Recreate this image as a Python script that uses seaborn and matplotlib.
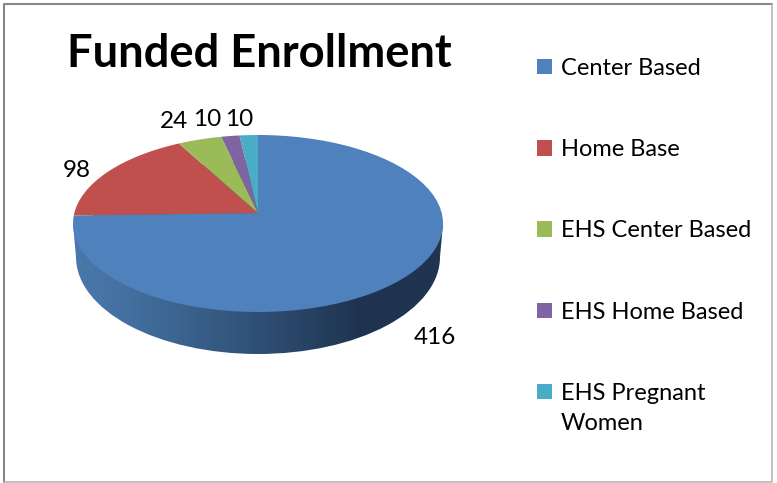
import numpy as np
import seaborn as sns
import matplotlib
matplotlib.use('Agg')
import matplotlib.pyplot as plt
import matplotlib.patches as mpatches
import matplotlib.transforms as mtransforms
from matplotlib.colors import LinearSegmentedColormap
from matplotlib.lines import Line2D

categories = ['Center Based', 'Home Base', 'EHS Center Based', 'EHS Home Based', 'EHS Pregnant\nWomen']
values = [416, 98, 24, 10, 10]
colors = ['#4F81BD', '#C0504D', '#9BBB59', '#8064A2', '#4BACC6']
label_px = [(435, 338), (77, 170), (174, 122), (207, 119), (239, 119)]

# pixel geometry of the pie in the 777x483 picture
cx, cy = 258, 213
sx, sy = 183.7, 87.25
tilt = 0.1186
W, H = 777, 483


class Tilt(mtransforms.Transform):
    # perspective, far edge of the pie looks smaller than the near edge
    input_dims = 2
    output_dims = 2

    def transform_non_affine(self, xy):
        xy = np.asarray(xy)
        w = 1 + tilt * xy[:, 1]
        return np.column_stack([xy[:, 0] / w, xy[:, 1] / w])


sns.set_theme(style='white')
plt.rcParams['font.family'] = ['Lato', 'DejaVu Sans']

fig = plt.figure(figsize=(W / 100, H / 100), dpi=100, facecolor='white')
ax = fig.add_axes([0, 0, 1, 1])

wedges, _ = ax.pie(values, colors=colors, startangle=90, counterclock=False,
                   wedgeprops={'linewidth': 0})
for w in wedges:
    w.set_transform(Tilt() + ax.transData)
    w.set_zorder(3)

# side of the pie, horizontal gradient clipped to the lower outline
side_cmap = LinearSegmentedColormap.from_list('side', [
    (0.0, '#4A78AB'), (0.15, '#43709F'), (0.5, '#2F5075'), (0.78, '#1F3350'), (1.0, '#1F3552')])
widest = 1 / np.sqrt(1 - tilt ** 2)
mid_y = -tilt / (1 - tilt ** 2)
low_y = (cy - 257) / sy
low_x = 182 / sx
outline = mpatches.Ellipse((0, low_y), 2 * low_x, 2 * 97 / sy, transform=ax.transData)
band = mpatches.Polygon([(-widest, mid_y), (widest, mid_y), (low_x, low_y), (-low_x, low_y)],
                        transform=ax.transData)
grad = np.linspace(0, 1, 256).reshape(1, -1)
for clip in [outline, band]:
    im = ax.imshow(grad, cmap=side_cmap, aspect='auto', zorder=2,
                   extent=(-widest, widest, -2, 1))
    im.set_clip_path(clip)

ax.set_xlim(-cx / sx, (W - cx) / sx)
ax.set_ylim((cy - H) / sy, cy / sy)
ax.set_aspect('auto')
ax.axis('off')

for val, (px, py) in zip(values, label_px):
    fig.text(px / W, 1 - py / H, str(val), ha='center', va='center',
             fontsize=17.5, color='black')

fig.text(259 / W, 1 - 54 / H, 'Funded Enrollment', ha='center', va='center',
         fontsize=32.7, fontweight='bold', color='black')

leg = fig.legend(wedges, categories, loc='upper left', bbox_to_anchor=(537 / W, 1 - 58 / H),
                 frameon=False, fontsize=17, handlelength=0.635, handleheight=0.635,
                 handletextpad=0.38, labelspacing=2.55, borderpad=0, borderaxespad=0,
                 labelcolor='black')
for t in leg.get_texts():
    t.set_linespacing(1.55)
leg.get_patches()[-1].set_y(leg.get_patches()[-1].get_y() + 12.5)

# chart border
fig.add_artist(Line2D([4 / W, 4 / W, 772 / W], [1 - 482 / H, 1 - 4 / H, 1 - 4 / H],
                      color='#868686', lw=1.5))
fig.add_artist(Line2D([4 / W, 772 / W, 772 / W], [1 - 482 / H, 1 - 482 / H, 1 - 4 / H],
                      color='#B5B5B5', lw=1.2))

fig.savefig('out.png', dpi=100)
